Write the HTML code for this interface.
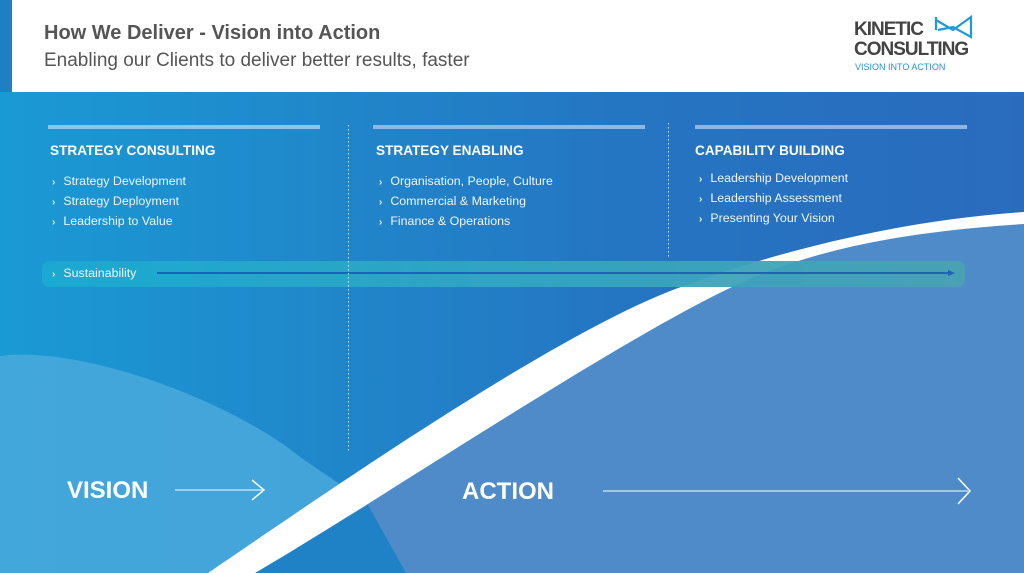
<!DOCTYPE html>
<html><head><meta charset="utf-8"><style>
*{margin:0;padding:0}
body{width:1024px;height:573px;overflow:hidden;position:relative;font-family:"Liberation Sans",sans-serif;background:#fff}
.t{position:absolute;white-space:nowrap}
.h{color:#fff;font-weight:bold;font-size:13.6px}
.i{color:#eef6fb;font-size:12.4px}
.i b{font-size:10px;margin-right:8px;font-weight:bold}
</style></head><body>
<svg width="1024" height="573" style="position:absolute;left:0;top:0">
<defs>
<linearGradient id="bg" x1="0" x2="1" y1="0" y2="0"><stop offset="0" stop-color="#1a9ad5"/><stop offset="0.6" stop-color="#2576c2"/><stop offset="1" stop-color="#2a6bbd"/></linearGradient>
<linearGradient id="sb" x1="0" x2="1"><stop offset="0" stop-color="#1aaad2"/><stop offset="1" stop-color="#48a2b2"/></linearGradient>
</defs>
<rect x="0" y="0" width="12" height="573" fill="#1f7fc4"/>
<rect x="0" y="92" width="1024" height="481" fill="url(#bg)"/>
<path d="M0,573 L0,356 C80,345 230,400 300,457 L344,487 L300,517 L208,573 Z" fill="#4aa9dc" opacity="0.85"/>
<path d="M1024,224 C900,232 810,250 732,287 C610,345 380,500 255,573 L1024,573 Z" fill="#4f8bc9"/>
<path d="M255,573 L368,505 L406,573 Z" fill="#1f82c6"/>
<path d="M208,573 C330,490 560,330 681,287 C760,258 880,222 1024,212 L1024,224 C900,232 810,250 732,287 C610,345 380,500 255,573 Z" fill="#fff"/>
<rect x="42" y="261" width="923" height="26" rx="7" fill="url(#sb)" opacity="0.95"/>
<line x1="157" y1="273" x2="950" y2="273" stroke="#1f63b5" stroke-width="2"/>
<path d="M948,270 L955,273 L948,276 Z" fill="#1f63b5"/>
<rect x="48" y="125" width="272" height="4" fill="#8fc4e6"/>
<rect x="373" y="125" width="272" height="4" fill="#8fb9e2"/>
<rect x="695" y="125" width="272" height="4" fill="#90b6e0"/>
<line x1="348.5" y1="125" x2="348.5" y2="452" stroke="#cfe6f5" stroke-width="1" stroke-dasharray="1.5 2.5"/>
<line x1="668.5" y1="123" x2="668.5" y2="258" stroke="#cfe0f2" stroke-width="1" stroke-dasharray="1.5 2.5"/>
<line x1="175" y1="490" x2="263" y2="490" stroke="#d8ecf8" stroke-width="1.3"/>
<path d="M252,480 L264,490 L252,500" fill="none" stroke="#fff" stroke-width="1.5"/>
<line x1="603" y1="491" x2="968" y2="491" stroke="#d8e6f5" stroke-width="1.3"/>
<path d="M958,478 L970,491 L958,504" fill="none" stroke="#fff" stroke-width="1.5"/>
<path d="M936,17 L936,30 M936,20 L953,30 L971,17 L971,37 L953,27 L938,30" fill="none" stroke="#1e9ad6" stroke-width="2.2"/>
</svg>
<div class="t" style="left:44px;top:22px;font-size:20px;font-weight:bold;color:#555">How We Deliver - Vision into Action</div>
<div class="t" style="left:44px;top:50px;font-size:19px;color:#555">Enabling our Clients to deliver better results, faster</div>
<div class="t" style="left:854px;top:19px;font-size:19px;font-weight:bold;color:#444;letter-spacing:-1px">KINETIC</div>
<div class="t" style="left:854px;top:39px;font-size:19px;font-weight:bold;color:#444;letter-spacing:-1px">CONSULTING</div>
<div class="t" style="left:855px;top:62px;font-size:9px;color:#2a8fd0">VISION INTO ACTION</div>

<div class="t h" style="left:50px;top:143px">STRATEGY CONSULTING</div>
<div class="t i" style="left:52px;top:174px"><b>›</b>Strategy Development</div>
<div class="t i" style="left:52px;top:194px"><b>›</b>Strategy Deployment</div>
<div class="t i" style="left:52px;top:214px"><b>›</b>Leadership to Value</div>

<div class="t h" style="left:376px;top:143px">STRATEGY ENABLING</div>
<div class="t i" style="left:379px;top:174px"><b>›</b>Organisation, People, Culture</div>
<div class="t i" style="left:379px;top:194px"><b>›</b>Commercial &amp; Marketing</div>
<div class="t i" style="left:379px;top:214px"><b>›</b>Finance &amp; Operations</div>

<div class="t h" style="left:695px;top:143px">CAPABILITY BUILDING</div>
<div class="t i" style="left:699px;top:171px"><b>›</b>Leadership Development</div>
<div class="t i" style="left:699px;top:191px"><b>›</b>Leadership Assessment</div>
<div class="t i" style="left:699px;top:211px"><b>›</b>Presenting Your Vision</div>

<div class="t i" style="left:52px;top:266px"><b>›</b>Sustainability</div>

<div class="t" style="left:67px;top:477px;font-size:24px;font-weight:bold;color:#fff">VISION</div>
<div class="t" style="left:462px;top:478px;font-size:24px;font-weight:bold;color:#fff">ACTION</div>
</body></html>
